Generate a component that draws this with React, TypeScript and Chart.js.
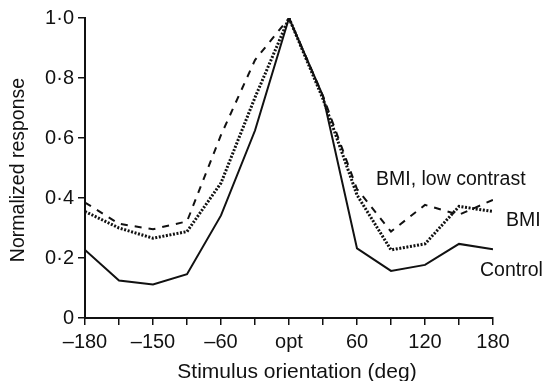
import React, { useEffect, useRef } from "react";
import { Chart, registerables } from "chart.js";

Chart.register(...registerables);

const orientations = [-180, -150, -120, -90, -60, -30, 0, 30, 60, 90, 120, 150, 180];
const control = [0.227, 0.125, 0.112, 0.146, 0.342, 0.625, 1.0, 0.74, 0.232, 0.157, 0.177, 0.247, 0.229];
const bmi = [0.355, 0.3, 0.266, 0.288, 0.45, 0.735, 1.0, 0.73, 0.41, 0.227, 0.247, 0.372, 0.355];
const bmiLow = [0.385, 0.314, 0.296, 0.322, 0.61, 0.86, 1.0, 0.74, 0.43, 0.288, 0.377, 0.344, 0.394];

const xTickLabels: Record<number, string> = {
  [-180]: "\u2013180",
  [-120]: "\u2013150",
  [-60]: "\u201360",
  0: "opt",
  60: "60",
  120: "120",
  180: "180",
};
const yTickLabels: Record<string, string> = {
  "0": "0",
  "0.2": "0\u00b72",
  "0.4": "0\u00b74",
  "0.6": "0\u00b76",
  "0.8": "0\u00b78",
  "1": "1\u00b70",
};

const seriesLabels = ["BMI, low contrast", "BMI", "Control"];

const FONT = "'Liberation Sans', Arial, Helvetica, sans-serif";

const labelsPlugin = {
  id: "seriesLabels",
  afterDraw(chart: any) {
    const ctx = chart.ctx;
    ctx.save();
    ctx.fillStyle = "#111";
    ctx.font = `19.5px ${FONT}`;
    ctx.textBaseline = "middle";
    ctx.textAlign = "left";
    ctx.fillText(seriesLabels[0], 376, 180);
    ctx.fillText(seriesLabels[1], 506, 221);
    ctx.fillText(seriesLabels[2], 480, 271);
    // axis titles
    ctx.textAlign = "center";
    ctx.font = `21px ${FONT}`;
    ctx.fillText("Stimulus orientation (deg)", 297, 372);
    ctx.font = `19.5px ${FONT}`;
    ctx.translate(19, 170);
    ctx.rotate(-Math.PI / 2);
    ctx.fillText("Normalized response", 0, 0);
    ctx.restore();
  },
};

export default function App() {
  const ref = useRef<HTMLCanvasElement | null>(null);
  useEffect(() => {
    if (!ref.current) return;
    const chart = new Chart(ref.current, {
      type: "line",
      data: {
        datasets: [
          {
            label: "Control",
            data: orientations.map((x, i) => ({ x, y: control[i] })),
            borderColor: "#111",
            borderWidth: 2,
            pointRadius: 0,
            tension: 0,
          },
          {
            label: "BMI",
            data: orientations.map((x, i) => ({ x, y: bmi[i] })),
            borderColor: "#111",
            borderWidth: 3,
            borderDash: [2, 1.6],
            pointRadius: 0,
            tension: 0,
          },
          {
            label: "BMI, low contrast",
            data: orientations.map((x, i) => ({ x, y: bmiLow[i] })),
            borderColor: "#111",
            borderWidth: 2,
            borderDash: [7, 7],
            pointRadius: 0,
            tension: 0,
          },
        ],
      },
      options: {
        responsive: false,
        animation: false,
        layout: { padding: { top: 18, right: 50, left: 0, bottom: 0 } },
        plugins: { legend: { display: false }, tooltip: { enabled: false } },
        scales: {
          x: {
            type: "linear",
            min: -180,
            max: 180,
            afterFit(scale: any) {
              scale.height = 63;
            },
            ticks: {
              stepSize: 30,
              autoSkip: false,
              maxRotation: 0,
              color: "#111",
              padding: 5,
              font: { family: FONT, size: 20 },
              callback: (v: any) => (xTickLabels[v] !== undefined ? xTickLabels[v] : ""),
            },
            grid: {
              drawOnChartArea: false,
              drawTicks: true,
              tickLength: 7,
              color: "#111",
              lineWidth: 1.5,
            },
            border: { display: true, color: "#111", width: 2 },
          },
          y: {
            min: 0,
            max: 1,
            afterFit(scale: any) {
              scale.width = 85;
            },
            ticks: {
              stepSize: 0.2,
              color: "#111",
              padding: 4,
              font: { family: FONT, size: 20 },
              callback: (v: any) => {
                const k = String(Math.round(Number(v) * 10) / 10);
                return yTickLabels[k] !== undefined ? yTickLabels[k] : "";
              },
            },
            grid: {
              drawOnChartArea: false,
              drawTicks: true,
              tickLength: 7,
              color: "#111",
              lineWidth: 1.5,
            },
            border: { display: true, color: "#111", width: 2 },
          },
        },
      },
      plugins: [labelsPlugin],
    });
    return () => chart.destroy();
  }, []);
  return (
    <div style={{ position: "fixed", left: 0, top: 0, width: 543, height: 381, background: "#fff" }}>
      <canvas ref={ref} width={543} height={381} />
    </div>
  );
}
